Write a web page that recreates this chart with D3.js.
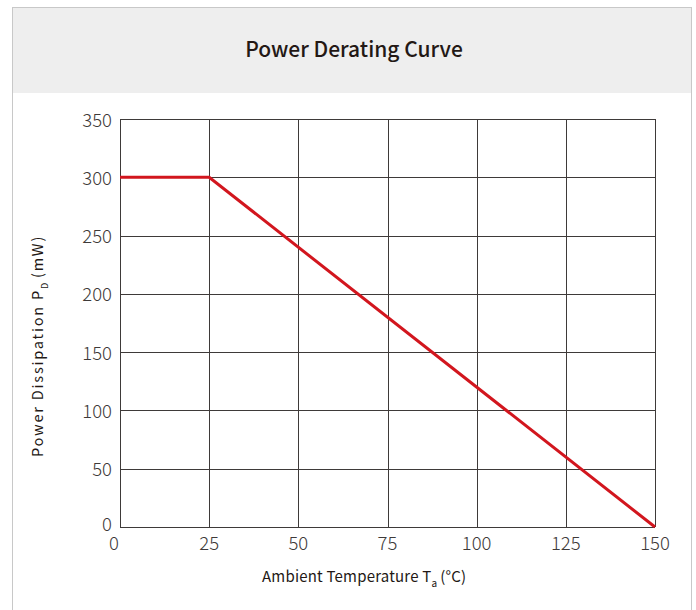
<!DOCTYPE html>
<html>
<head>
<meta charset="utf-8">
<script src="https://cdn.jsdelivr.net/npm/d3@7"></script>
<style>
  body { margin: 0; background: #fff; }
  text { font-family: "Noto Sans CJK SC", "Noto Sans", sans-serif; }
</style>
</head>
<body>
<div id="chart"></div>
<script>
var temps = [0, 25, 150];
var power = [300, 300, 0];
var xTicks = [0, 25, 50, 75, 100, 125, 150];
var yTicks = [0, 50, 100, 150, 200, 250, 300, 350];

var width = 696;
var height = 610;

var m = { l: 120, t: 119, r: 41, b: 83 };

var svg = d3
  .select("#chart")
  .append("svg")
  .attr("width", width)
  .attr("height", height);

// card frame + header band
svg.append("rect")
  .attr("x", 12.5).attr("y", 7.5)
  .attr("width", 679).attr("height", 620)
  .attr("fill", "#fff")
  .attr("stroke", "#c8c8c8");

svg.append("rect")
  .attr("x", 13).attr("y", 8)
  .attr("width", 678).attr("height", 85)
  .attr("fill", "#eeeeee");

svg.append("text")
  .attr("x", 354).attr("y", 57)
  .attr("text-anchor", "middle")
  .attr("font-size", 21)
  .attr("font-weight", 500)
  .attr("fill", "#231815")
  .text("Power Derating Curve");

var x = d3.scaleLinear().domain([0, 150]).range([m.l, width - m.r]);
var y = d3.scaleLinear().domain([0, 350]).range([height - m.b, m.t]);

var g = svg.append("g");

// grid
g.selectAll(".vgrid")
  .data(xTicks)
  .join("line")
  .attr("class", "vgrid")
  .attr("x1", (d) => Math.round(x(d)) + 0.5)
  .attr("x2", (d) => Math.round(x(d)) + 0.5)
  .attr("y1", y(0))
  .attr("y2", y(350))
  .attr("stroke", "#3e3a39")
  .attr("stroke-width", 1);

g.selectAll(".hgrid")
  .data(yTicks)
  .join("line")
  .attr("class", "hgrid")
  .attr("x1", x(0))
  .attr("x2", x(150))
  .attr("y1", (d) => Math.round(y(d)) + 0.5)
  .attr("y2", (d) => Math.round(y(d)) + 0.5)
  .attr("stroke", "#3e3a39")
  .attr("stroke-width", 1);

// tick labels
g.selectAll(".ylab")
  .data(yTicks)
  .join("text")
  .attr("class", "ylab")
  .attr("x", m.l - 8)
  .attr("y", (d) => y(d) + (d === 0 ? 3.5 : 7.5))
  .attr("text-anchor", "end")
  .attr("font-size", 18.5)
  .attr("font-weight", 300)
  .attr("fill", "#3e3a39")
  .text((d) => d);

g.selectAll(".xlab")
  .data(xTicks)
  .join("text")
  .attr("class", "xlab")
  .attr("x", (d) => x(d) + (d === 0 ? -6 : 0))
  .attr("y", y(0) + 23)
  .attr("text-anchor", "middle")
  .attr("font-size", 18.5)
  .attr("font-weight", 300)
  .attr("fill", "#3e3a39")
  .text((d) => d);

// axis titles
var xt = svg.append("text")
  .attr("x", 262)
  .attr("y", 582)
  .attr("font-size", 15)
  .attr("letter-spacing", 0.2)
  .attr("fill", "#231815");
xt.append("tspan").text("Ambient Temperature T");
xt.append("tspan").attr("font-size", 10).attr("dy", 5).text("a");
xt.append("tspan").attr("dy", -5).attr("dx", 3).text("(°C)");

var yt = svg.append("text")
  .attr("transform", "translate(43, 457) rotate(-90)")
  .attr("font-size", 14.5)
  .attr("letter-spacing", 1.8)
  .attr("fill", "#231815");
yt.append("tspan").text("Power Dissipation P");
yt.append("tspan").attr("font-size", 9).attr("dy", 5).text("D");
yt.append("tspan").attr("dy", -5).attr("dx", 3).text("(mW)");

// derating curve
var line = d3.line()
  .x((d, i) => x(temps[i]))
  .y((d) => y(d));

g.append("path")
  .datum(power)
  .attr("d", line)
  .attr("fill", "none")
  .attr("stroke", "#d2161e")
  .attr("stroke-width", 3);
</script>
</body>
</html>
